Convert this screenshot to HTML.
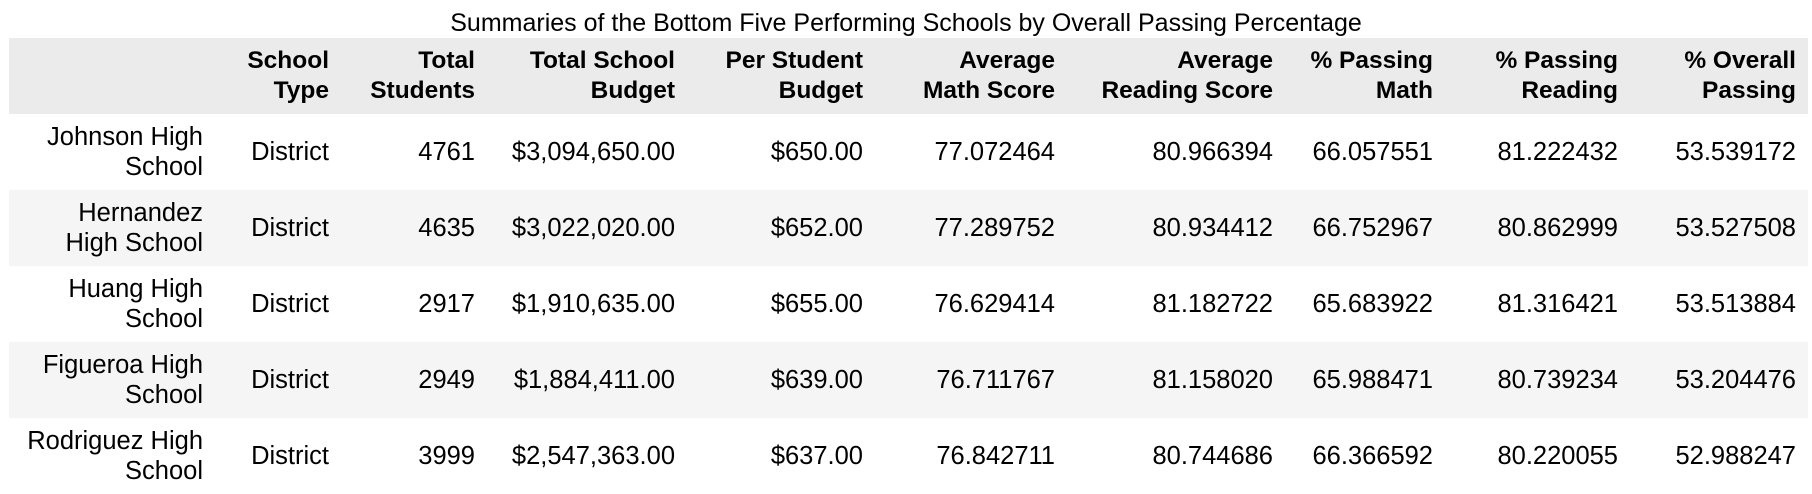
<!DOCTYPE html>
<html><head><meta charset="utf-8">
<style>
html,body{margin:0;padding:0;background:#fff;width:1812px;height:488px;overflow:hidden}
body{font-family:"Liberation Sans",sans-serif;color:#000}
.title{position:absolute;left:0;top:8px;width:1812px;text-align:center;font-size:25px;line-height:30px}
table{position:absolute;left:9px;top:38px;border-collapse:collapse;table-layout:fixed;font-size:25.5px}
td,th{padding:0 12px 0 0;text-align:right;line-height:30px;white-space:nowrap;overflow:visible}
thead tr{height:76px;background:#ebebeb}
th{font-weight:bold;vertical-align:middle;font-size:24.5px}
tbody tr{height:76px}
tbody tr:nth-child(even){background:#f5f5f5}
td{vertical-align:middle}
</style></head><body>
<div class="title">Summaries of the Bottom Five Performing Schools by Overall Passing Percentage</div>
<table>
<colgroup><col style="width:206px"><col style="width:126px"><col style="width:146px"><col style="width:200px"><col style="width:188px"><col style="width:192px"><col style="width:218px"><col style="width:160px"><col style="width:185px"><col style="width:178px"></colgroup>
<thead><tr>
<th></th>
<th>School<br>Type</th>
<th>Total<br>Students</th>
<th>Total School<br>Budget</th>
<th>Per Student<br>Budget</th>
<th>Average<br>Math Score</th>
<th>Average<br>Reading Score</th>
<th>% Passing<br>Math</th>
<th>% Passing<br>Reading</th>
<th>% Overall<br>Passing</th>
</tr></thead>
<tbody>
<tr><td>Johnson High<br>School</td><td>District</td><td>4761</td><td>$3,094,650.00</td><td>$650.00</td><td>77.072464</td><td>80.966394</td><td>66.057551</td><td>81.222432</td><td>53.539172</td></tr>
<tr><td>Hernandez<br>High School</td><td>District</td><td>4635</td><td>$3,022,020.00</td><td>$652.00</td><td>77.289752</td><td>80.934412</td><td>66.752967</td><td>80.862999</td><td>53.527508</td></tr>
<tr><td>Huang High<br>School</td><td>District</td><td>2917</td><td>$1,910,635.00</td><td>$655.00</td><td>76.629414</td><td>81.182722</td><td>65.683922</td><td>81.316421</td><td>53.513884</td></tr>
<tr><td>Figueroa High<br>School</td><td>District</td><td>2949</td><td>$1,884,411.00</td><td>$639.00</td><td>76.711767</td><td>81.158020</td><td>65.988471</td><td>80.739234</td><td>53.204476</td></tr>
<tr><td>Rodriguez High<br>School</td><td>District</td><td>3999</td><td>$2,547,363.00</td><td>$637.00</td><td>76.842711</td><td>80.744686</td><td>66.366592</td><td>80.220055</td><td>52.988247</td></tr>
</tbody></table>
</body></html>
